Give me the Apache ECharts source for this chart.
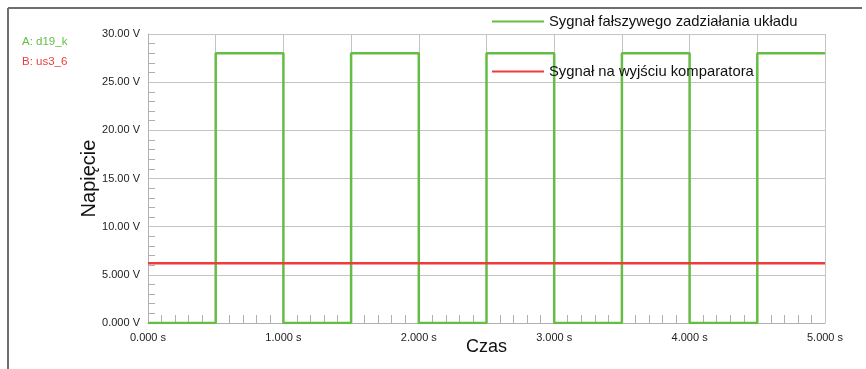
<!DOCTYPE html>
<html>
<head>
<meta charset="utf-8">
<script src="https://cdn.jsdelivr.net/npm/echarts@6/dist/echarts.min.js"></script>
<style>
html,body{margin:0;padding:0;background:#fff;overflow:hidden;}
#chart{width:866px;height:369px;}
</style>
</head>
<body>
<div id="chart"></div>
<script>
// Data
var seriesNames = ['Sygnał fałszywego zadziałania układu', 'Sygnał na wyjściu komparatora'];
var traceLabels = ['A: d19_k', 'B: us3_6'];
var greenTimes = [0, 0.5, 1.0, 1.5, 2.0, 2.5, 3.0, 3.5, 4.0, 4.5, 5.0];
var greenLevels = [0, 28, 0, 28, 0, 28, 0, 28, 0, 28, 28];
var redTimes = [0, 5.0];
var redLevels = [6.2, 6.2];
var xTickValues = [0, 1, 2, 3, 4, 5];
var xTickLabels = ['0.000 s', '1.000 s', '2.000 s', '3.000 s', '4.000 s', '5.000 s'];
var yTickValues = [0, 5, 10, 15, 20, 25, 30];
var yTickLabels = ['0.000 V', '5.000 V', '10.00 V', '15.00 V', '20.00 V', '25.00 V', '30.00 V'];

var greenColor = '#66bd45';
var redColor = '#ee3b3b';

function pairs(xs, ys) { return xs.map(function (x, i) { return [x, ys[i]]; }); }
function lookup(vals, labels) {
  return function (v) {
    for (var i = 0; i < vals.length; i++) if (Math.abs(vals[i] - v) < 1e-9) return labels[i];
    return '';
  };
}

var chart = echarts.init(document.getElementById('chart'), null, {renderer: 'canvas'});
chart.setOption({
  animation: false,
  backgroundColor: '#fff',
  textStyle: {fontFamily: 'Liberation Sans, Arial, sans-serif'},
  grid: {left: 148, width: 677, top: 34, height: 289, containLabel: false, outerBoundsMode: 'none'},
  legend: {
    orient: 'vertical',
    left: 487,
    top: 9,
    itemWidth: 52,
    itemHeight: 2,
    itemGap: 35,
    icon: 'rect',
    textStyle: {fontSize: 14.8, color: '#111', fontFamily: 'Liberation Sans, Arial, sans-serif'},
    data: seriesNames
  },
  xAxis: {
    type: 'value', min: 0, max: 5, interval: 0.5,
    name: 'Czas', nameLocation: 'middle', nameGap: 15, nameMoveOverlap: false,
    nameTextStyle: {fontSize: 18, color: '#111'},
    axisLine: {show: true, onZero: false, lineStyle: {color: '#b0b0b0', width: 1}},
    axisTick: {show: false, inside: true},
    minorTick: {show: true, splitNumber: 5, length: 8, lineStyle: {color: '#b0b0b0', width: 1}},
    axisLabel: {fontSize: 11, color: '#222', margin: 9, formatter: lookup(xTickValues, xTickLabels), showMinLabel: true, showMaxLabel: true},
    splitLine: {show: true, lineStyle: {color: '#c4c4c4', width: 1}}
  },
  yAxis: {
    type: 'value', min: 0, max: 30, interval: 5,
    name: 'Napięcie', nameLocation: 'middle', nameGap: 49, nameRotate: 90, nameMoveOverlap: false,
    nameTextStyle: {fontSize: 20, color: '#111'},
    axisLine: {show: true, onZero: false, lineStyle: {color: '#b0b0b0', width: 1}},
    axisTick: {show: false, inside: true},
    minorTick: {show: true, splitNumber: 5, length: 7, lineStyle: {color: '#b0b0b0', width: 1}},
    axisLabel: {fontSize: 11, color: '#222', margin: 8, formatter: lookup(yTickValues, yTickLabels)},
    splitLine: {show: true, lineStyle: {color: '#c4c4c4', width: 1}}
  },
  graphic: [
    {type: 'line', shape: {x1: 8, y1: 8, x2: 862, y2: 8}, style: {stroke: '#6e6e6e', lineWidth: 2}},
    {type: 'line', shape: {x1: 8, y1: 8, x2: 8, y2: 369}, style: {stroke: '#6e6e6e', lineWidth: 2}},
    {type: 'text', left: 22, top: 36, style: {text: traceLabels[0], fill: greenColor, font: '11.5px "Liberation Sans", Arial, sans-serif'}},
    {type: 'text', left: 22, top: 56, style: {text: traceLabels[1], fill: redColor, font: '11.5px "Liberation Sans", Arial, sans-serif'}}
  ],
  series: [
    {
      name: seriesNames[0], type: 'line', step: 'end', symbol: 'none',
      data: pairs(greenTimes, greenLevels),
      lineStyle: {color: greenColor, width: 2.5}, itemStyle: {color: greenColor}, z: 3
    },
    {
      name: seriesNames[1], type: 'line', symbol: 'none',
      data: pairs(redTimes, redLevels),
      lineStyle: {color: redColor, width: 2.5}, itemStyle: {color: redColor}, z: 4
    }
  ]
});
</script>
</body>
</html>
